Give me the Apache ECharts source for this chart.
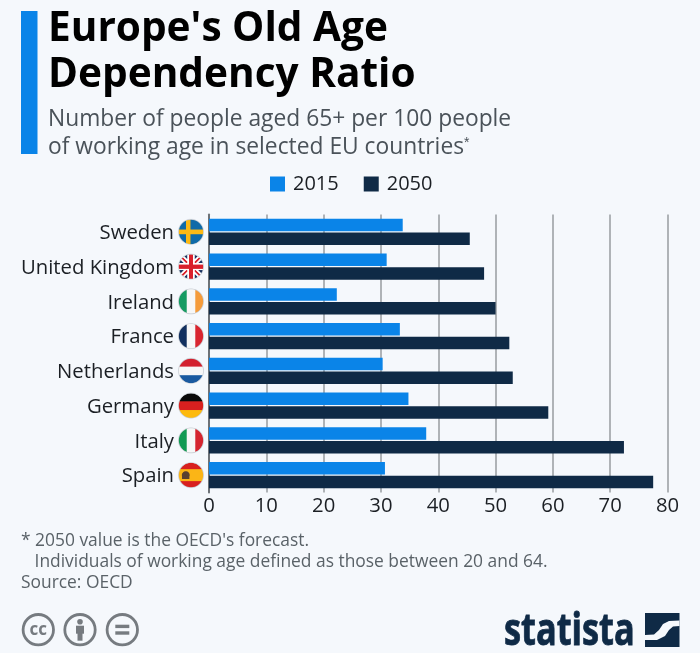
<!DOCTYPE html>
<html>
<head>
    <meta charset="utf-8">
    <title>Europe's Old Age Dependency Ratio</title>
    <script src="https://cdn.jsdelivr.net/npm/echarts@6/dist/echarts.min.js"></script>
    <style>
        html, body {margin:0;padding:0;background:#f5f8fc;}
        #chart {width:700px;height:653px;}
    </style>
</head>
<body>
<div id="chart"></div>
<script>
    const categories = ['Sweden', 'United Kingdom', 'Ireland', 'France', 'Netherlands', 'Germany', 'Italy', 'Spain'];
    const values2015 = [33.8, 31.0, 22.3, 33.3, 30.3, 34.8, 37.9, 30.7];
    const values2050 = [45.5, 48.0, 50.0, 52.4, 53.0, 59.2, 72.4, 77.5];

    const BLUE = '#0a84e8';
    const NAVY = '#0f2a46';
    const BG = '#f5f8fc';
    const FONT = '"Open Sans", sans-serif';

    // flags are painted on a small canvas and used as label backgrounds
    function vStripes(c, s, cols) {
        cols.forEach(function (col, i) {
            c.fillStyle = col;
            c.fillRect(i * s / cols.length, 0, s / cols.length + 1, s);
        });
    }
    function hStripes(c, s, cols, sizes) {
        let y = 0;
        cols.forEach(function (col, i) {
            c.fillStyle = col;
            const h = sizes ? sizes[i] * s : s / cols.length;
            c.fillRect(0, y, s, h + 1);
            y += h;
        });
    }
    const flagPainters = {
        'Sweden': function (c, s) {
            c.fillStyle = '#0f6aa8'; c.fillRect(0, 0, s, s);
            c.fillStyle = '#fdb913';
            c.fillRect(s * 0.3, 0, s * 0.18, s);
            c.fillRect(0, s * 0.41, s, s * 0.18);
        },
        'United Kingdom': function (c, s) {
            c.fillStyle = '#1c3564'; c.fillRect(0, 0, s, s);
            c.strokeStyle = '#fff'; c.lineWidth = s * 0.2;
            c.beginPath(); c.moveTo(0, 0); c.lineTo(s, s); c.moveTo(s, 0); c.lineTo(0, s); c.stroke();
            c.strokeStyle = '#d9202c'; c.lineWidth = s * 0.07;
            c.beginPath(); c.moveTo(0, 0); c.lineTo(s, s); c.moveTo(s, 0); c.lineTo(0, s); c.stroke();
            c.fillStyle = '#fff';
            c.fillRect(s * 0.36, 0, s * 0.28, s);
            c.fillRect(0, s * 0.36, s, s * 0.28);
            c.fillStyle = '#d9202c';
            c.fillRect(s * 0.42, 0, s * 0.16, s);
            c.fillRect(0, s * 0.42, s, s * 0.16);
        },
        'Ireland': function (c, s) { vStripes(c, s, ['#169b62', '#f7f7f7', '#f59b3a']); },
        'France': function (c, s) { vStripes(c, s, ['#12305f', '#f7f7f7', '#d9252f']); },
        'Netherlands': function (c, s) { hStripes(c, s, ['#d3202e', '#f7f7f7', '#1a5aa0']); },
        'Germany': function (c, s) { hStripes(c, s, ['#0a0a0a', '#d8201f', '#fdba0e']); },
        'Italy': function (c, s) { vStripes(c, s, ['#129a53', '#f7f7f7', '#d5252f']); },
        'Spain': function (c, s) {
            hStripes(c, s, ['#d8201f', '#fbb516', '#d8201f'], [0.27, 0.46, 0.27]);
            c.fillStyle = '#5a4030';
            c.beginPath(); c.arc(s * 0.3, s * 0.5, s * 0.15, 0, Math.PI * 2); c.fill();
            c.fillRect(s * 0.16, s * 0.5, s * 0.28, s * 0.14);
        }
    };
    function flagImage(name) {
        const size = 100;
        const cv = document.createElement('canvas');
        cv.width = size; cv.height = size;
        const c = cv.getContext('2d');
        c.save();
        c.beginPath(); c.arc(size / 2, size / 2, size / 2 - 2, 0, Math.PI * 2); c.clip();
        flagPainters[name](c, size);
        c.restore();
        c.strokeStyle = '#c9ced4'; c.lineWidth = 3;
        c.beginPath(); c.arc(size / 2, size / 2, size / 2 - 2, 0, Math.PI * 2); c.stroke();
        return cv.toDataURL();
    }

    const labelRich = {name: {fontFamily: FONT, fontSize: 20.3, color: '#1b1f24', padding: [3, 4, 0, 0]}};
    categories.forEach(function (name, i) {
        labelRich['f' + i] = {width: 26, height: 26, backgroundColor: {image: flagImage(name)}};
    });

    const chart = echarts.init(document.getElementById('chart'), null, {renderer: 'canvas'});
    chart.setOption({
        animation: false,
        backgroundColor: BG,
        textStyle: {fontFamily: FONT},
        grid: {left: 209, right: 32.5, top: 214.5, bottom: 160.5, containLabel: false},
        legend: {
            top: 169, left: 265, itemWidth: 15, itemHeight: 15, itemGap: 25,
            icon: 'rect',
            textStyle: {fontFamily: FONT, fontSize: 20, color: '#1b1f24', padding: [0, 0, 0, 3]},
            data: ['2015', '2050']
        },
        xAxis: {
            type: 'value', min: 0, max: 80, interval: 10,
            axisLine: {show: false},
            axisTick: {show: false},
            axisLabel: {fontFamily: FONT, fontSize: 20.3, color: '#1b1f24', margin: 4},
            splitLine: {show: true, lineStyle: {color: '#979ca1', width: 1.5}}
        },
        yAxis: {
            type: 'category', inverse: true, data: categories,
            axisLine: {show: true, lineStyle: {color: '#6d7277', width: 2}},
            axisTick: {show: false},
            axisLabel: {
                margin: 5,
                formatter: function (v) { return '{name|' + v + '}{f' + categories.indexOf(v) + '|}'; },
                rich: labelRich
            }
        },
        series: [
            {name: '2015', type: 'bar', data: values2015, barWidth: 12.7, barGap: '8%', itemStyle: {color: BLUE}, z: 3},
            {name: '2050', type: 'bar', data: values2050, barWidth: 12.7, barGap: '8%', itemStyle: {color: NAVY}, z: 3}
        ],
        graphic: [
            {type: 'rect', shape: {x: 21, y: 11, width: 16.5, height: 143}, style: {fill: BLUE}},
            {type: 'text', x: 48, y: 6, style: {
                text: "Europe's Old Age\nDependency Ratio",
                font: 'bold 40.6px "Open Sans", sans-serif', lineHeight: 46, fill: '#000'
            }},
            {type: 'text', x: 48, y: 105.5, style: {
                text: 'Number of people aged 65+ per 100 people\nof working age in selected EU countries{sup|*}',
                font: '22.8px "Open Sans", sans-serif', lineHeight: 28, fill: '#4a5259',
                rich: {sup: {fontSize: 14, fill: '#4a5259', padding: [0, 0, 9, 0]}}
            }},
            {type: 'text', x: 21, y: 530, style: {
                text: "* 2050 value is the OECD's forecast.\n   Individuals of working age defined as those between 20 and 64.\nSource: OECD",
                font: '17.4px "Open Sans", sans-serif', lineHeight: 21.3, fill: '#5a6268'
            }},
            // licence icons
            {type: 'group', x: 38.3, y: 629.7, children: [
                {type: 'circle', shape: {r: 15.2}, style: {fill: 'none', stroke: '#767b80', lineWidth: 2.8}},
                {type: 'text', style: {text: 'cc', x: 0, y: 0, align: 'center', verticalAlign: 'middle', font: 'bold 17px "Open Sans", sans-serif', fill: '#767b80'}}
            ]},
            {type: 'group', x: 80, y: 629.7, children: [
                {type: 'circle', shape: {r: 15.2}, style: {fill: 'none', stroke: '#767b80', lineWidth: 2.8}},
                {type: 'circle', shape: {cx: 0, cy: -8, r: 2.8}, style: {fill: '#767b80'}},
                {type: 'rect', shape: {x: -4, y: -4, width: 8, height: 8}, style: {fill: '#767b80'}},
                {type: 'rect', shape: {x: -2.5, y: 3, width: 5, height: 8}, style: {fill: '#767b80'}}
            ]},
            {type: 'group', x: 122.3, y: 629.7, children: [
                {type: 'circle', shape: {r: 15.2}, style: {fill: 'none', stroke: '#767b80', lineWidth: 2.8}},
                {type: 'rect', shape: {x: -7, y: -5, width: 14, height: 3.4}, style: {fill: '#767b80'}},
                {type: 'rect', shape: {x: -7, y: 1.6, width: 14, height: 3.4}, style: {fill: '#767b80'}}
            ]},
            // statista logo
            {type: 'text', x: 504, y: 610, scaleX: 0.78, style: {
                text: 'statista', font: 'bold 44px "Liberation Sans Narrow", "Open Sans", sans-serif',
                fill: NAVY, stroke: NAVY, lineWidth: 0.8
            }},
            {type: 'group', x: 645, y: 613, children: [
                {type: 'rect', shape: {x: 0, y: 0, width: 34.5, height: 34}, style: {fill: NAVY}},
                {type: 'polygon', shape: {points: [[0, 22], [9, 21.5], [14, 17], [18, 11], [24, 8], [34.5, 7.5], [34.5, 13], [28, 13.5], [24, 17], [20, 23], [12, 27], [0, 27]]}, style: {fill: BG}}
            ]}
        ]
    });
</script>
</body>
</html>
